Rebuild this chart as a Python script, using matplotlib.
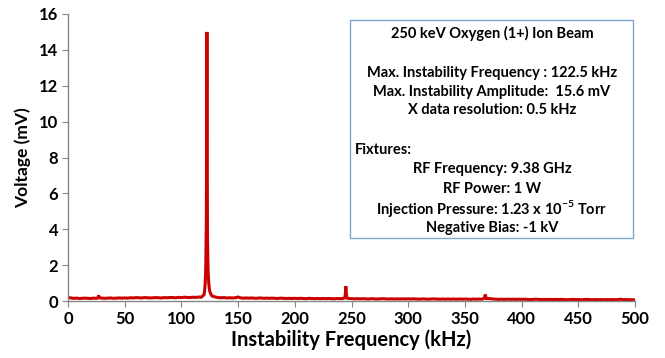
import numpy as np
import matplotlib
matplotlib.use("Agg")
import matplotlib.pyplot as plt
from matplotlib.patches import Rectangle

plt.rcParams['font.family'] = ['Lato', 'DejaVu Sans']
plt.rcParams['mathtext.fontset'] = 'custom'
plt.rcParams['mathtext.rm'] = 'Lato:bold'
plt.rcParams['mathtext.bf'] = 'Lato:bold'

# baseline spectrum sampled every 2.5 kHz (mV)
base_step = 2.5
base_v = [
    0.20,0.17,0.15,0.16,0.14,0.15,0.16,0.15,0.14,0.16,0.15,0.17,0.16,0.15,0.16,0.17,0.15,0.16,0.17,0.16,
    0.17,0.16,0.18,0.17,0.19,0.18,0.17,0.19,0.18,0.17,0.18,0.19,0.18,0.17,0.19,0.18,0.20,0.19,0.18,0.20,
    0.19,0.21,0.20,0.19,0.21,0.20,0.22,0.21,0.24,0.30,0.60,0.30,0.22,0.19,0.18,0.19,0.17,0.18,0.17,0.18,
    0.22,0.17,0.16,0.17,0.16,0.17,0.15,0.16,0.17,0.15,0.16,0.15,0.16,0.15,0.14,0.16,0.15,0.14,0.15,0.14,
    0.15,0.14,0.15,0.14,0.13,0.15,0.14,0.13,0.14,0.13,0.14,0.13,0.14,0.13,0.12,0.14,0.13,0.14,0.30,0.14,
    0.13,0.12,0.13,0.12,0.13,0.12,0.11,0.13,0.12,0.11,0.12,0.13,0.12,0.11,0.12,0.11,0.12,0.11,0.12,0.11,
    0.12,0.11,0.12,0.11,0.10,0.12,0.11,0.10,0.11,0.12,0.11,0.10,0.11,0.10,0.11,0.10,0.11,0.10,0.11,0.10,
    0.11,0.10,0.09,0.11,0.10,0.11,0.10,0.12,0.14,0.13,0.11,0.10,0.09,0.10,0.09,0.10,0.09,0.10,0.09,0.10,
    0.09,0.10,0.09,0.08,0.09,0.10,0.09,0.08,0.09,0.08,0.09,0.08,0.09,0.08,0.09,0.08,0.07,0.08,0.09,0.08,
    0.08,0.07,0.08,0.09,0.08,0.07,0.08,0.07,0.08,0.07,0.08,0.07,0.08,0.07,0.08,0.10,0.07,0.08,0.07,0.07,
    0.07,
]

# fine-resolution samples around the peaks (0.5 kHz resolution)
peak_f = [26.5, 27.0, 27.5,
          120.0, 120.5, 121.0, 121.5, 122.0, 122.5, 123.0, 123.5, 124.0, 124.5, 125.0, 125.5, 126.0, 126.5, 127.0,
          244.0, 244.5, 245.0, 245.5, 246.0,
          367.0, 367.5, 368.0, 368.5, 369.0]
peak_v = [0.18, 0.32, 0.18,
          0.35, 0.60, 1.00, 1.90, 4.50, 15.00, 3.50, 1.80, 1.10, 0.75, 0.55, 0.45, 0.38, 0.32, 0.28,
          0.18, 0.35, 0.82, 0.40, 0.16,
          0.15, 0.22, 0.36, 0.22, 0.14]

x_ticks = [0, 50, 100, 150, 200, 250, 300, 350, 400, 450, 500]
y_ticks = [0, 2, 4, 6, 8, 10, 12, 14, 16]

base_f = np.arange(len(base_v)) * base_step
base_v = np.array(base_v)
pf = np.array(peak_f)
keep = np.array([np.min(np.abs(pf - f)) > 1.2 for f in base_f])
f_all = np.concatenate([base_f[keep], pf])
v_all = np.concatenate([base_v[keep], np.array(peak_v)])
order = np.argsort(f_all)
f_all, v_all = f_all[order], v_all[order]

W, H = 665, 358
fig = plt.figure(figsize=(W / 100, H / 100), dpi=100)
ax = fig.add_axes([68 / W, 1 - 301 / H, (635 - 68) / W, (301 - 14) / H])

ax.plot(f_all, v_all, color='#CC0000', lw=2.2, solid_joinstyle='miter')
ax.set_xlim(0, 500)
ax.set_ylim(0, 16)
ax.set_xticks(x_ticks)
ax.set_yticks(y_ticks)
for s in ['top', 'right']:
    ax.spines[s].set_visible(False)
for s in ['left', 'bottom']:
    ax.spines[s].set_color('#868686')
    ax.spines[s].set_linewidth(1.0)
ax.tick_params(direction='out', length=4, color='#868686', labelsize=12, pad=3)
for lab in ax.get_xticklabels() + ax.get_yticklabels():
    lab.set_fontweight('bold')
ax.set_xlabel('Instability Frequency (kHz)', fontsize=14.5, fontweight='bold', labelpad=2)
ax.set_ylabel('Voltage (mV)', fontsize=12.5, fontweight='bold', labelpad=6)

# annotation box
fig.patches.append(Rectangle((350 / W, 1 - 238 / H), (633 - 350) / W, (238 - 20) / H,
                             transform=fig.transFigure, fill=True, facecolor='white',
                             edgecolor='#7FA6CE', lw=1.0, zorder=5))
cx = 492 / W
lines = [
    (33, '250 keV Oxygen (1+) Ion Beam', 'c'),
    (73, 'Max. Instability Frequency : 122.5 kHz', 'c'),
    (92, 'Max. Instability Amplitude:  15.6 mV', 'c'),
    (110, 'X data resolution: 0.5 kHz', 'c'),
    (150, 'Fixtures:', 'l'),
    (169, 'RF Frequency: 9.38 GHz', 'c'),
    (189, 'RF Power: 1 W', 'c'),
    (208, 'Injection Pressure: 1.23 x 10$^{-5}$ Torr', 'c'),
    (228, 'Negative Bias: -1 kV', 'c'),
]
for y, txt, al in lines:
    if al == 'c':
        fig.text(cx, 1 - y / H, txt, ha='center', va='center', fontsize=10.5,
                 fontweight='bold', zorder=6)
    else:
        fig.text(355 / W, 1 - y / H, txt, ha='left', va='center', fontsize=10.5,
                 fontweight='bold', zorder=6)

fig.savefig('out.png', dpi=100)
